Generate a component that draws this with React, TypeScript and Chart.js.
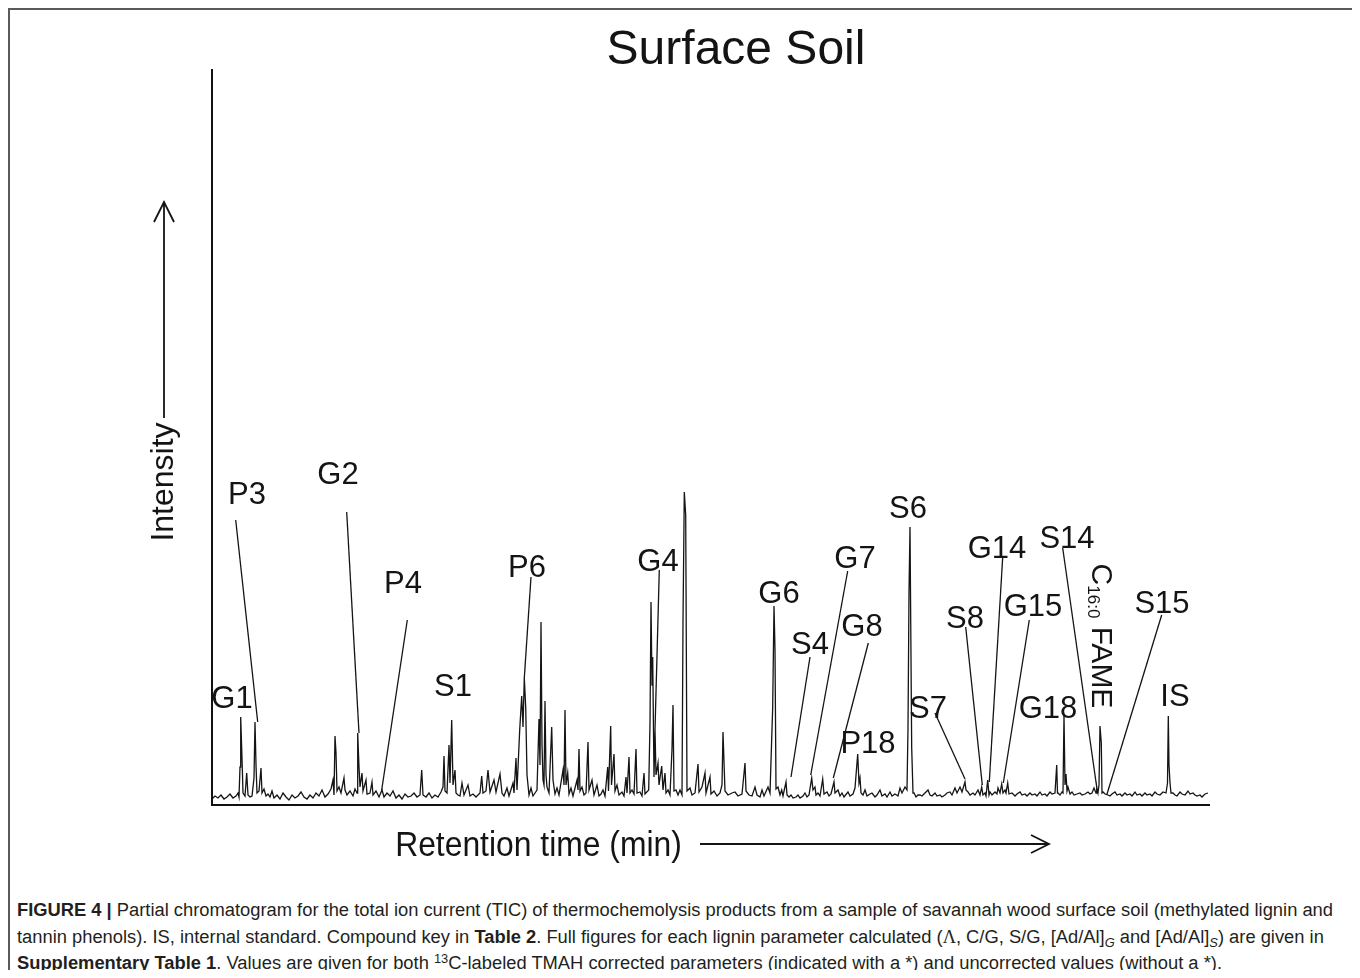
import React, { useEffect, useRef } from "react";
import { Chart, registerables } from "chart.js";

Chart.register(...registerables);

const FONT = '"Liberation Sans", Arial, Helvetica, sans-serif';

// Chromatogram trace: [retention (arbitrary units), intensity (arbitrary units)]
const traceSegA: [number, number][] = [
  [0, 6], [3, 9], [6, 7], [9, 10], [12, 6], [15, 8], [18, 11], [21, 7], [24, 9], [26, 12], [27, 8],
  [28, 38], [28.7, 88], [30, 47], [31, 12], [33, 9], [34.7, 32], [36, 10], [38, 8], [40, 9], [42, 27],
  [43, 83], [44, 40], [45, 12], [47, 14], [49, 37], [50, 12], [52, 16], [54, 9], [56, 11], [58, 8],
  [60, 14], [62, 7], [65, 10], [68, 6], [71, 12], [74, 8], [77, 5], [80, 10], [83, 7], [86, 9], [89, 13],
  [92, 8], [95, 6], [98, 10], [101, 7], [104, 12], [107, 9], [110, 15], [113, 8], [116, 11], [119, 16],
  [121, 25], [122, 10], [123, 69], [124, 52], [125, 14],
];

const traceSegB: [number, number][] = [
  [127, 18], [129, 12], [132, 27], [133, 15], [135, 10], [138, 14], [141, 9], [143, 16], [145, 12],
  [145.7, 72], [147, 38], [148, 18], [150, 32], [151, 14], [154, 25], [155, 11], [158, 12], [160, 23],
  [161, 10], [164, 14], [167, 8], [170, 15], [172, 8], [175, 12], [178, 9], [181, 14], [184, 7], [187, 10],
  [190, 6], [193, 11], [196, 8], [199, 9], [202, 12], [205, 8], [208, 10], [209.7, 35], [211, 10], [214, 8],
  [217, 12], [220, 7], [223, 10], [226, 8], [229, 13], [231, 18], [232, 49], [233, 14], [235, 12],
  [237, 60], [238, 22], [239.7, 85], [241, 20], [243, 35], [244, 12],
];

const traceSegC: [number, number][] = [
  [246, 10], [248, 9], [250, 22], [252, 10], [256, 20], [258, 9], [261, 11], [264, 8], [268, 12],
  [269.7, 29], [271, 12], [274, 14], [276, 35], [278, 13], [282, 25], [284, 13], [288, 31], [290, 12],
  [292, 9], [295, 17], [297, 9], [301, 22], [302, 12], [304, 47], [305, 15], [307.7, 75], [309.7, 109],
  [311, 78], [312.3, 127], [313.7, 98], [315, 30], [317, 10], [319, 17], [321, 9], [323, 12], [325, 15],
  [327, 86], [328, 40], [329, 183], [330, 60], [331, 25], [332, 20], [333, 104], [334, 30], [335, 18],
  [337, 12], [339.7, 78], [341, 25], [343, 11], [345, 17], [347, 10], [351, 35], [352, 20], [353, 95],
  [354, 20], [355.7, 32], [357, 11], [359, 17], [361, 9], [365, 25], [366, 15], [367, 56], [368, 14],
  [370, 18], [372, 10], [374, 12], [376, 63], [377, 15], [380, 25], [382, 10], [385, 20], [387, 9],
  [389, 11], [391, 15], [393, 9], [395.7, 38], [396.5, 14], [398.7, 79], [399.5, 20], [402, 51], [403, 14],
  [405, 20], [407, 10], [410, 13], [412, 9], [414, 28], [415, 12], [417, 48], [418, 12], [420, 15],
  [422, 11], [424, 56], [425, 12], [428, 13], [430, 9], [432, 32], [433, 11], [436.7, 15], [438, 82],
  [439, 203], [440, 120], [440.7, 148], [442, 28], [443, 75], [444, 30], [446, 42], [447, 20],
  [449.7, 39], [451, 15], [453, 32], [454, 12], [456, 15], [458, 10], [460, 56], [461, 100], [462, 14],
  [464, 15], [466, 10], [468, 15], [470, 10], [471, 183], [472.3, 313], [473.7, 290], [475, 14],
  [476, 15], [478, 17],
];

const traceSegD: [number, number][] = [
  [480, 10], [483, 12], [486, 41], [487, 13], [490, 18], [493, 32], [494, 12], [498, 28], [499, 11],
  [502, 14], [505, 9], [508, 12], [510, 20], [511, 73], [512, 43], [513, 14], [516, 10], [520, 12],
  [523, 13], [526, 9], [530, 11], [533, 42], [534, 14], [537, 10], [540, 9], [543, 18], [545, 10],
  [548, 8], [550, 15], [552, 9], [556, 18], [558, 12], [560.7, 98], [562, 199], [563, 155], [564, 16],
  [566, 18], [568, 10], [569.7, 15], [571, 9], [574, 23], [575, 10], [577, 8], [579, 10], [581, 7],
  [584, 8], [586, 10], [588, 7], [591, 9], [593, 12], [595, 8], [597, 10], [599.7, 27], [601, 15],
  [603, 18], [604, 10], [606, 12], [608, 9], [610.7, 26], [612, 11], [615, 13], [617, 9], [619, 11],
  [622, 23], [623, 12], [626, 15], [628, 9], [630, 12], [632, 8], [636, 13], [638, 9], [641, 11],
  [643, 17], [645.7, 51], [647, 22], [648, 27], [649, 12], [651, 10], [653, 15], [655, 9], [658, 11],
  [660, 12], [663, 8], [665, 10], [668, 15], [670, 9], [673, 11], [675, 8], [678, 13], [680, 9],
  [683, 11], [686, 9], [688, 17], [690, 12], [693, 18], [695, 15], [696, 77], [697, 213], [698, 278],
  [699.7, 57], [701, 12], [702, 12], [704, 8], [706, 10], [708, 10], [710, 9], [713, 12], [716, 15],
  [718, 10], [720, 9], [723, 12],
];

const traceSegE: [number, number][] = [
  [725, 9], [728, 10], [730, 8], [733, 10], [735, 12], [738, 13], [740, 10], [743, 17], [745, 12],
  [748, 18], [750, 13], [753, 23], [754, 15], [756, 13], [758, 10], [761, 12], [763, 10], [766, 15],
  [768, 10], [769.7, 18], [771, 10], [773, 12], [774, 9], [775.7, 25], [777, 10], [778, 13], [780, 10],
  [783, 13], [785, 11], [786, 17], [788, 12], [789.7, 21], [791, 12], [793, 15], [794, 12], [795.7, 22],
  [797, 11], [800, 12], [803, 9], [805, 11], [808, 13], [810, 10], [813, 11], [815, 9], [818, 12],
  [820, 10], [823, 11], [825, 9], [828, 13], [830, 10], [833, 11], [835, 9], [838, 13], [840, 11],
  [843, 12], [844.7, 40], [845.5, 12], [846, 12], [848, 10], [850, 13], [851, 12], [852, 90], [853, 20],
  [854, 31], [855, 14], [856, 18], [858, 11], [860, 13], [862, 10], [865, 11], [868, 12], [870, 10],
  [873, 11], [876, 13], [878, 11], [880, 12], [882, 17], [884, 12], [884.7, 18], [886, 12], [887, 20],
  [888, 79], [889.3, 62], [890, 12], [891, 13], [893, 11], [896, 10], [898, 9], [900, 11], [903, 13],
  [905, 10], [908, 11], [910, 9], [913, 12], [915, 10], [918, 11], [920, 9], [923, 13], [925, 10],
  [928, 11], [930, 9], [933, 12], [935, 10], [938, 11], [940, 9], [943, 13], [945, 11], [948, 10],
  [951, 13], [954, 12], [955.5, 22], [956.3, 89], [957, 40], [958, 22], [959, 12], [961, 12], [963, 10],
  [965, 9], [968, 13], [970, 11], [973, 10], [976, 14], [978, 11], [981, 12], [983, 10], [985, 9],
  [988, 10], [990, 8], [993, 11], [996, 12],
];

// Peak labels (positions in data units)
const labelNames = ["G1", "P3", "G2", "P4", "S1", "P6", "G4", "G6", "S4", "G7", "G8", "P18", "S6", "S7", "S8", "G14", "G15", "S14", "S15", "G18", "IS"];
const labelX = [20, 35, 126, 191, 241, 315, 446, 567, 598, 643, 650, 656, 696, 716, 753, 785, 821, 855, 950, 836, 963];
const labelY = [108, 312, 332, 223, 120, 239, 245, 213, 162, 248, 180, 63, 298, 98, 188, 258, 200, 268, 203, 98, 110];

// Leader lines from label to peak (null = none)
const leaderStartX = [null, 23.7, 134.7, 195.3, null, 319, 447.3, null, 598, 635.7, 656.3, null, null, 723, 753.7, 790.7, 817.3, 850.7, 949.7, null, null];
const leaderStartY = [null, 285, 293, 185, null, 228, 235, null, 148, 234, 162, null, null, 92, 178, 248, 185, 257, 190, null, null];
const leaderEndX = [null, 45.7, 147, 169.7, null, 312.3, 443, null, 579, 598.7, 621.3, null, null, 753, 770.3, 777.3, 791.3, 884.7, 894.7, null, null];
const leaderEndY = [null, 83, 72, 15, null, 127, 75, null, 28, 30, 27, null, null, 26, 20, 23, 22, 18, 10, null, null];

// Rotated fatty acid label
const fameLabelX = 890.7;
const fameLabelY = 169;

const titleText = "Surface Soil";
const xTitle = "Retention time (min)";
const yTitle = "Intensity";

const trace = [...traceSegA, ...traceSegB, ...traceSegC, ...traceSegD, ...traceSegE].map(([t, v]) => ({ x: t, y: v }));

const annotationPlugin = {
  id: "peakAnnotations",
  afterDatasetsDraw(chart: any) {
    const ctx: CanvasRenderingContext2D = chart.ctx;
    const xs = chart.scales.x;
    const ys = chart.scales.y;
    ctx.save();
    ctx.strokeStyle = "#141414";
    ctx.fillStyle = "#141414";
    ctx.lineWidth = 1.3;
    for (let i = 0; i < labelNames.length; i++) {
      const sx = leaderStartX[i];
      if (sx == null) continue;
      ctx.beginPath();
      ctx.moveTo(xs.getPixelForValue(sx), ys.getPixelForValue(leaderStartY[i] as number));
      ctx.lineTo(xs.getPixelForValue(leaderEndX[i] as number), ys.getPixelForValue(leaderEndY[i] as number));
      ctx.stroke();
    }
    ctx.font = `31px ${FONT}`;
    ctx.textAlign = "center";
    ctx.textBaseline = "alphabetic";
    for (let i = 0; i < labelNames.length; i++) {
      ctx.fillText(labelNames[i], xs.getPixelForValue(labelX[i]), ys.getPixelForValue(labelY[i]) + 11);
    }

    // C16:0 FAME rotated
    {
      const cx = xs.getPixelForValue(fameLabelX);
      const cy = ys.getPixelForValue(fameLabelY);
      ctx.save();
      ctx.translate(cx - 10.5, cy);
      ctx.rotate(Math.PI / 2);
      ctx.textAlign = "left";
      const big = `30px ${FONT}`;
      const small = `17px ${FONT}`;
      ctx.font = big;
      const wC = ctx.measureText("C").width;
      const wF = ctx.measureText(" FAME").width;
      ctx.font = small;
      const wS = ctx.measureText("16:0").width;
      let pos = -(wC + wS + wF) / 2;
      ctx.font = big;
      ctx.fillText("C", pos, 0);
      pos += wC;
      ctx.font = small;
      ctx.fillText("16:0", pos, 4);
      pos += wS;
      ctx.font = big;
      ctx.fillText(" FAME", pos, 0);
      ctx.restore();
    }

    // Title
    ctx.textAlign = "center";
    ctx.font = `48px ${FONT}`;
    ctx.fillText(titleText, 726, 54);

    // Y title + arrow
    ctx.save();
    ctx.translate(163, 472);
    ctx.rotate(-Math.PI / 2);
    ctx.font = `32px ${FONT}`;
    ctx.fillText(yTitle, 0, 0);
    ctx.restore();
    ctx.lineWidth = 1.8;
    ctx.beginPath();
    ctx.moveTo(154, 408);
    ctx.lineTo(154, 192);
    ctx.moveTo(144, 212);
    ctx.lineTo(154, 192);
    ctx.lineTo(164, 212);
    ctx.stroke();

    // X title + arrow
    ctx.save();
    ctx.translate(528.5, 846);
    ctx.scale(0.91, 1);
    ctx.font = `35px ${FONT}`;
    ctx.fillText(xTitle, 0, 0);
    ctx.restore();
    ctx.beginPath();
    ctx.moveTo(690, 834);
    ctx.lineTo(1039, 834);
    ctx.moveTo(1021, 825);
    ctx.lineTo(1039, 834);
    ctx.lineTo(1021, 843);
    ctx.stroke();

    ctx.restore();
  },
};

function ChromatogramChart() {
  const canvasRef = useRef<HTMLCanvasElement | null>(null);
  useEffect(() => {
    if (!canvasRef.current) return;
    const chart = new Chart(canvasRef.current, {
      type: "line",
      data: {
        datasets: [
          {
            data: trace,
            borderColor: "#141414",
            borderWidth: 1.3,
            pointRadius: 0,
            fill: false,
            tension: 0,
          },
        ],
      },
      options: {
        animation: false,
        responsive: false,
        devicePixelRatio: 1,
        layout: { padding: { left: 202, right: 143, top: 60, bottom: 85 } },
        plugins: {
          legend: { display: false },
          tooltip: { enabled: false },
          title: { display: false },
        },
        scales: {
          x: {
            type: "linear",
            min: 0,
            max: 997,
            grid: { display: false, drawTicks: false },
            ticks: { display: false },
            border: { display: true, color: "#111", width: 2 },
          },
          y: {
            type: "linear",
            min: 0,
            max: 735,
            grid: { display: false, drawTicks: false },
            ticks: { display: false },
            border: { display: true, color: "#111", width: 2 },
          },
        },
      } as any,
      plugins: [annotationPlugin],
    });
    return () => chart.destroy();
  }, []);
  return <canvas ref={canvasRef} width={1342} height={880} style={{ position: "absolute", left: 0, top: 0, width: 1342, height: 880 }} />;
}

export default function App() {
  const capRef = useRef<HTMLDivElement | null>(null);
  const line1Ref = useRef<HTMLSpanElement | null>(null);
  useEffect(() => {
    if (capRef.current && line1Ref.current) {
      const w = line1Ref.current.getBoundingClientRect().width;
      if (w > 0) capRef.current.style.transform = `scaleX(${1316 / w})`;
    }
  }, []);
  const subStyle: React.CSSProperties = { fontSize: "0.7em", fontStyle: "italic", verticalAlign: "-0.3em", lineHeight: 0 };
  const supStyle: React.CSSProperties = { fontSize: "0.7em", verticalAlign: "0.45em", lineHeight: 0 };
  return (
    <div
      style={{
        position: "relative",
        width: 1346,
        height: 962,
        borderTop: "2px solid #5a5a5a",
        borderLeft: "2px solid #5a5a5a",
        borderRight: "2px solid #5a5a5a",
        borderBottom: "none",
        boxSizing: "border-box",
        background: "#fff",
      }}
    >
      <ChromatogramChart />
      <div
        ref={capRef}
        style={{ position: "absolute", left: 7, top: 887, whiteSpace: "nowrap", fontFamily: FONT, fontSize: 18, lineHeight: "26.5px", color: "#231f20", transformOrigin: "0 0" }}
      >
        <div>
          <span ref={line1Ref}>
            <b>FIGURE 4 |</b> Partial chromatogram for the total ion current (TIC) of thermochemolysis products from a sample of savannah wood surface soil (methylated lignin and
          </span>
        </div>
        <div>
          tannin phenols). IS, internal standard. Compound key in <b>Table 2</b>. Full figures for each lignin parameter calculated (
          <span style={{ fontFamily: '"Liberation Serif", serif' }}>Λ</span>, C/G, S/G, [Ad/Al]<span style={subStyle}>G</span> and [Ad/Al]
          <span style={subStyle}>S</span>) are given in
        </div>
        <div>
          <b>Supplementary Table 1</b>. Values are given for both <span style={supStyle}>13</span>C-labeled TMAH corrected parameters (indicated with a *) and uncorrected values (without a *).
        </div>
      </div>
    </div>
  );
}
